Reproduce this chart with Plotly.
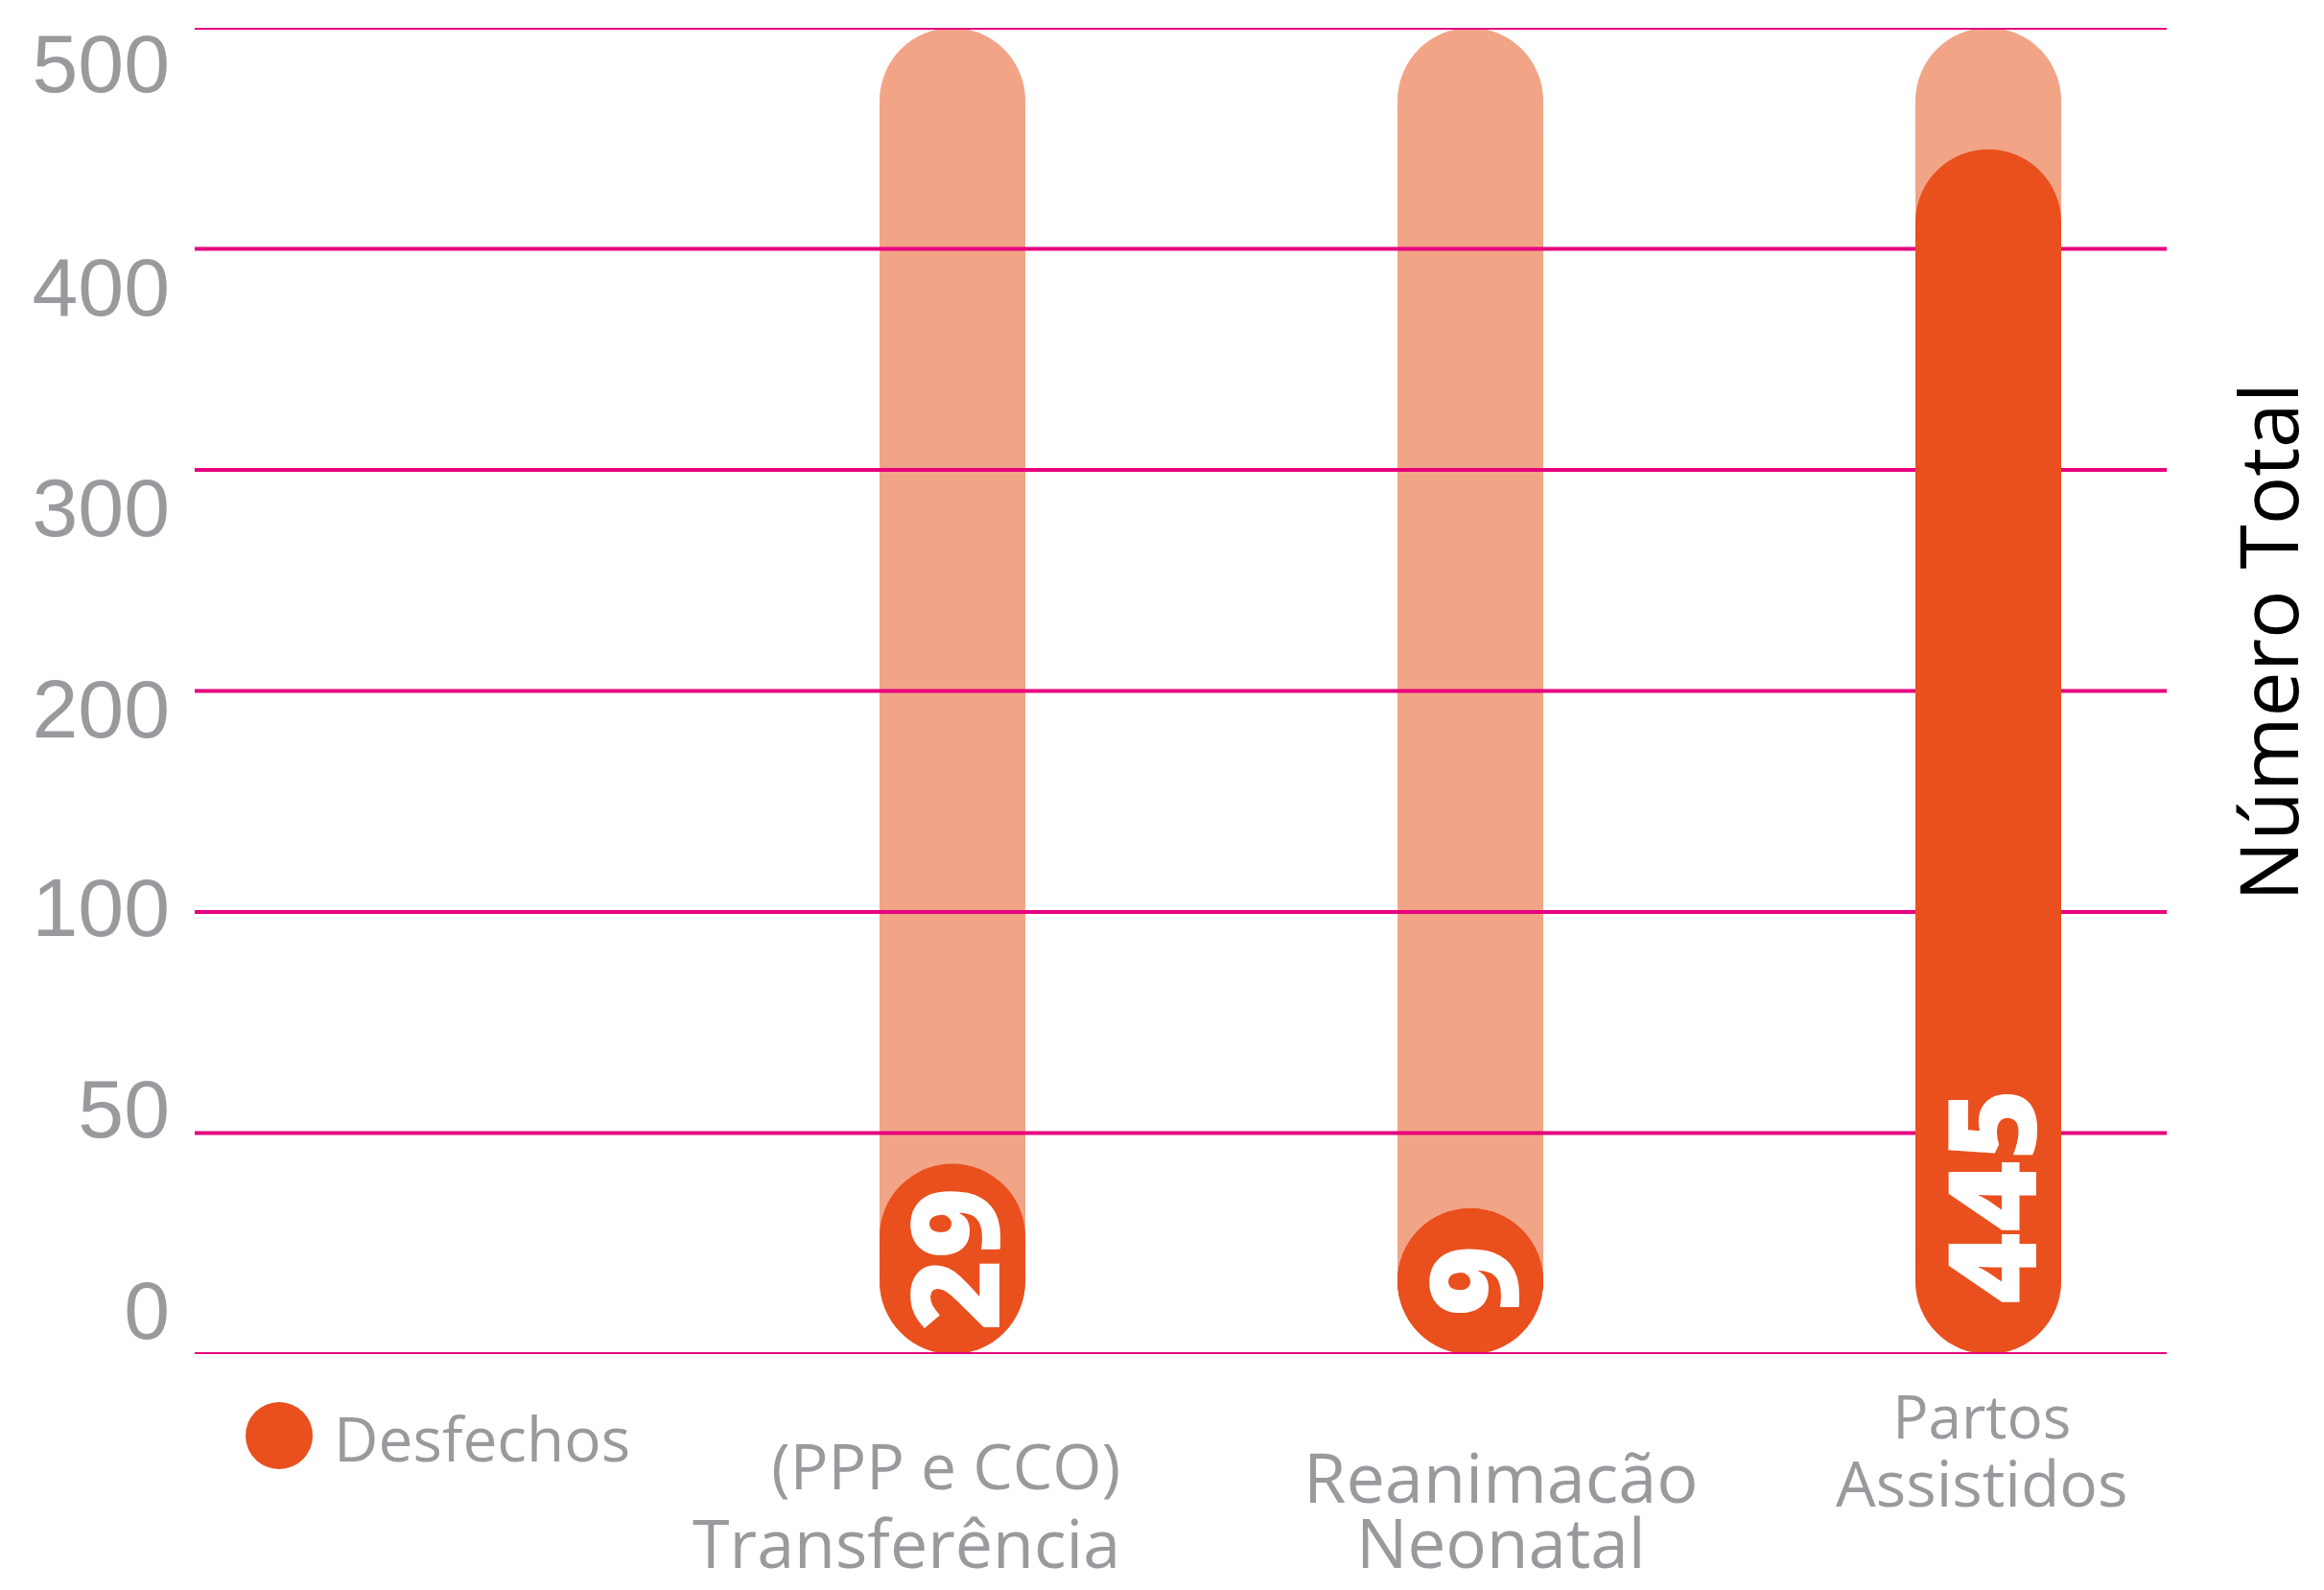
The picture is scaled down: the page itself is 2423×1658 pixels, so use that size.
import numpy as np
import plotly.graph_objects as go

# ---------------- data ----------------
categories = ["Transferência (PPP e CCO)", "Reanimacão Neonatal", "Partos Assistidos"]
category_lines = [["(PPP e CCO)", "Transferência"], ["Reanimacão", "Neonatal"], ["Partos", "Assistidos"]]
total_values = [500, 500, 500]
desfechos_values = [29, 9, 445]
tick_values = [0, 50, 100, 200, 300, 400, 500]
tick_labels = ["0", "50", "100", "200", "300", "400", "500"]
series_name = "Desfechos"
axis_title = "Número Total"

# ---------------- styling / layout ----------------
W, H = 2423, 1658
ML, MR, MT, MB = 203, 164, 29, 246
PLOT_W = W - ML - MR
PLOT_H = H - MT - MB
ORANGE = "#E9501E"
SALMON = "#F2A487"
MAGENTA = "#E6007E"
GRAY = "#9A999E"
FONT = "Open Sans"
ASC, DESC, CAPC = 1.069, 0.293, 0.357  # Open Sans ascent, descent, cap-centre (em)
BAR_PX = 152
X_UNIT_PX = 540.0
FIRST_BAR_PX = 993 - ML
VALUE_FONT = 128
DIGIT_ADV = 0.572 * VALUE_FONT
LABEL_PAD = 26
LABEL_CENTER_CAP_PX = 164

x_pos = np.arange(1, len(categories) + 1, dtype=float)
x_lo = x_pos[0] - FIRST_BAR_PX / X_UNIT_PX
x_hi = x_lo + PLOT_W / X_UNIT_PX
n_grid = len(tick_values) - 1
Y_UNIT_PX = PLOT_H / n_grid
bar_w = BAR_PX / X_UNIT_PX
r_idx = (BAR_PX / 2) / Y_UNIT_PX
tick_label_offsets = [0.20, 0.11, 0.02, -0.08, -0.17, -0.17, -0.16]

# category label blocks: page-pixel anchor x, target cap-centre y per line, sizes, weights
cat_block_style = [
    dict(x=1169, anchor="right", align="right", cy=[1548, 1629], size=[66, 70], weight=[400, 500]),
    dict(x=1565, anchor="center", align="center", cy=[1554, 1622], size=[72, 71], weight=[500, 500]),
    dict(x=2066, anchor="center", align="center", cy=[1478, 1548], size=[62, 66], weight=[400, 400]),
]


def px_x(x):
    return (x - ML) / PLOT_W


def px_y(y):
    return (MT + PLOT_H - y) / PLOT_H


def to_idx(v):
    return np.interp(v, tick_values, np.arange(len(tick_values)))


def pill(values, labels=None):
    tops = np.maximum(to_idx(np.array(values, dtype=float)), 2 * r_idx)
    if labels is not None:
        min_len = np.array([(len(s) * DIGIT_ADV + 2 * LABEL_PAD) / Y_UNIT_PX for s in labels])
        tops = np.maximum(tops, min_len)
    body = tops - 2 * r_idx
    cap_lo = np.full_like(tops, r_idx)
    cap_hi = tops - r_idx
    return tops, body, cap_lo, cap_hi


fig = go.Figure()

# background (total) pills on y
t_tops, t_body, t_lo, t_hi = pill(total_values)
fig.add_trace(go.Bar(x=x_pos, y=t_body, base=r_idx, width=bar_w, marker=dict(color=SALMON, line=dict(width=0)),
                     xaxis="x", yaxis="y", showlegend=False, hoverinfo="skip"))
fig.add_trace(go.Scatter(x=np.concatenate([x_pos, x_pos]), y=np.concatenate([t_lo, t_hi]), mode="markers",
                         marker=dict(size=BAR_PX, color=SALMON, line=dict(width=0)), cliponaxis=False,
                         xaxis="x", yaxis="y", showlegend=False, hoverinfo="skip"))

# gridlines (above salmon, below orange)
gx, gy = [], []
for i in range(len(tick_values)):
    gx += [x_lo, x_hi, None]
    gy += [i, i, None]
fig.add_trace(go.Scatter(x=gx, y=gy, mode="lines", line=dict(color=MAGENTA, width=4), cliponaxis=False,
                         xaxis="x", yaxis="y", showlegend=False, hoverinfo="skip"))

# foreground (desfechos) pills on y2
value_text = [str(v) for v in desfechos_values]
d_tops, d_body, d_lo, d_hi = pill(desfechos_values, value_text)
fig.add_trace(go.Bar(x=x_pos, y=d_body, base=r_idx, width=bar_w, marker=dict(color=ORANGE, line=dict(width=0)),
                     xaxis="x", yaxis="y2", showlegend=False, name=series_name))
fig.add_trace(go.Scatter(x=np.concatenate([x_pos, x_pos]), y=np.concatenate([d_lo, d_hi]), mode="markers",
                         marker=dict(size=BAR_PX, color=ORANGE, line=dict(width=0)), cliponaxis=False,
                         xaxis="x", yaxis="y2", showlegend=False, hoverinfo="skip"))

annotations = []
# value labels inside pills
for xp, top, s in zip(x_pos, d_tops, value_text):
    annotations.append(dict(x=xp, y=min(top / 2, LABEL_CENTER_CAP_PX / Y_UNIT_PX), xref="x", yref="y2", text=s,
                            textangle=-90, showarrow=False,
                            font=dict(family=FONT, size=VALUE_FONT, color="white", weight=800),
                            xanchor="center", yanchor="middle"))

# category labels: one annotation per category, lines sized individually
for lines, st in zip(category_lines, cat_block_style):
    s1, s2 = st["size"]
    b1 = st["cy"][0] + CAPC * s1
    b2 = st["cy"][1] + CAPC * s2
    shift = max(0.0, b2 + DESC * s2 - (H - 2))
    b1 -= shift
    b2 -= shift
    base_size = (b2 - b1) / 1.3
    top = b1 - ASC * s1
    bottom = b2 + DESC * s2
    text = "<br>".join(
        f"<span style='font-size:{sz}px;font-weight:{wt}'>{ln}</span>"
        for ln, sz, wt in zip(lines, st["size"], st["weight"]))
    annotations.append(dict(x=px_x(st["x"]), y=px_y((top + bottom) / 2), xref="paper", yref="paper", text=text,
                            showarrow=False, xanchor=st["anchor"], align=st["align"], yanchor="middle",
                            borderpad=0,
                            font=dict(family=FONT, size=base_size, color=GRAY)))

# legend text
annotations.append(dict(x=px_x(346), y=px_y(1499), xref="paper", yref="paper",
                        text=series_name, showarrow=False, xanchor="left", yanchor="middle",
                        font=dict(family=FONT, size=64, color=GRAY)))
# right axis title
annotations.append(dict(x=px_x(2364), y=px_y(670), xref="paper", yref="paper",
                        text=axis_title, textangle=-90, showarrow=False, xanchor="center", yanchor="middle",
                        font=dict(family=FONT, size=84, color="black", weight=500)))

shapes = [
    # legend marker
    dict(type="circle", xref="paper", yref="paper", xsizemode="pixel", ysizemode="pixel",
         xanchor=px_x(291), yanchor=px_y(1497),
         x0=-35, x1=35, y0=-35, y1=35, fillcolor=ORANGE, line=dict(width=0)),
    # baseline on top
    dict(type="line", xref="paper", yref="y", x0=0, x1=1, y0=0, y1=0, layer="above",
         line=dict(color=MAGENTA, width=4)),
]

fig.update_layout(
    width=W, height=H,
    margin=dict(l=ML, r=MR, t=MT, b=MB, autoexpand=False),
    paper_bgcolor="white", plot_bgcolor="white",
    barmode="overlay", showlegend=False,
    xaxis=dict(range=[x_lo, x_hi], visible=False, fixedrange=True),
    yaxis=dict(range=[0, n_grid], showgrid=False, zeroline=False, showline=False,
               tickvals=[i + o for i, o in enumerate(tick_label_offsets)], ticktext=tick_labels,
               tickfont=dict(family="Liberation Sans", size=86, color=GRAY), ticks="",
               ticklabelstandoff=25, fixedrange=True),
    yaxis2=dict(range=[0, n_grid], overlaying="y", visible=False, fixedrange=True),
    annotations=annotations,
    shapes=shapes,
)

fig.write_html("out.html", config={"displayModeBar": False},
               post_script="document.body.style.margin='0px';document.body.style.overflow='hidden';")
